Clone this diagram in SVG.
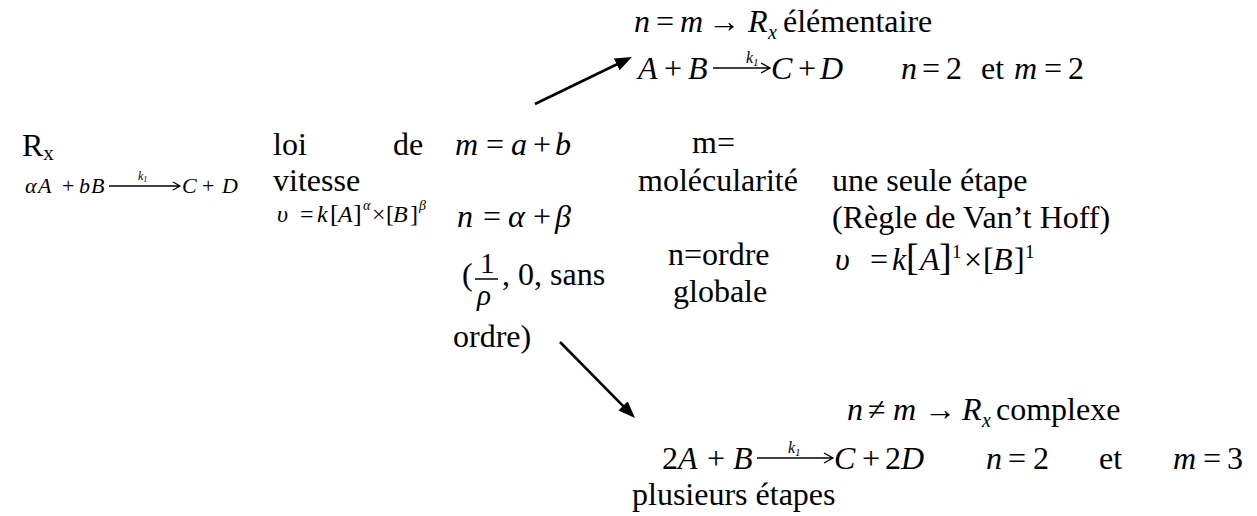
<svg xmlns="http://www.w3.org/2000/svg" width="1257" height="516" viewBox="0 0 1257 516">
<style>
text{font-family:"Liberation Serif","Times New Roman",serif;font-size:32px;fill:#000}
.i{font-style:italic}
.sub{font-size:20px;font-style:italic}
.eq{font-size:22px}
.eq2{font-size:24px}
.k{font-size:16px;font-style:italic}
.k1{font-size:11px}
.ks{font-size:12px;font-style:italic}
.ks1{font-size:8px}
.fr{font-size:29px}
.ar{stroke:#000;stroke-width:1.3;fill:none}
.cn{stroke:#000;stroke-width:2.6;fill:none}
</style>
<defs>
<marker id="head" viewBox="0 0 17 13" refX="9" refY="6.5" markerWidth="17" markerHeight="13" markerUnits="userSpaceOnUse" orient="auto"><path d="M0,0 L17,6.5 L0,13 z" fill="#000"/></marker>
</defs>
<g id="connectors">
<line class="cn" x1="535" y1="104" x2="624.8" y2="60.5" marker-end="url(#head)"/>
<line class="cn" x1="560" y1="342" x2="629.4" y2="412.3" marker-end="url(#head)"/>
</g>
<g id="rx">
<text x="22" y="156">R<tspan font-size="21" dy="4">x</tspan></text>
<text class="eq" y="193"><tspan class="i" x="25">α</tspan><tspan class="i" x="38">A</tspan><tspan x="62">+</tspan><tspan class="i" x="79">b</tspan><tspan class="i" x="91">B</tspan><tspan class="i" x="182">C</tspan><tspan x="202">+</tspan><tspan class="i" x="222">D</tspan></text>
<path class="ar" d="M109,186 H180 M173,182 L180,186 L173,190"/>
<text class="ks" x="138" y="180">k<tspan class="ks1" dy="2">1</tspan></text>
</g>
<g id="loi">
<text x="273" y="155">loi</text>
<text x="393" y="155">de</text>
<text x="273" y="191">vitesse</text>
<text class="eq2" y="222"><tspan class="i" x="277">υ</tspan><tspan x="300">=</tspan><tspan class="i" x="317">k</tspan><tspan x="330" font-size="26">[</tspan><tspan class="i" x="338">A</tspan><tspan x="353" font-size="26">]</tspan><tspan x="363" class="i" font-size="14" dy="-12">α</tspan><tspan x="372" dy="12">×</tspan><tspan x="386">[</tspan><tspan class="i" x="393">B</tspan><tspan x="410">]</tspan><tspan x="419" class="i" font-size="14" dy="-12">β</tspan></text>
</g>
<g id="mn">
<text y="155"><tspan class="i" x="455">m</tspan><tspan x="486">=</tspan><tspan class="i" x="511">a</tspan><tspan x="533">+</tspan><tspan class="i" x="555">b</tspan></text>
<text y="227"><tspan class="i" x="457">n</tspan><tspan x="483">=</tspan><tspan class="i" x="508">α</tspan><tspan x="533">+</tspan><tspan class="i" x="555">β</tspan></text>
<text x="462" y="285">(</text>
<text class="fr" x="480" y="273">1</text>
<line x1="475" y1="279" x2="498" y2="279" stroke="#000" stroke-width="1.5"/>
<text class="fr i" x="477" y="305">ρ</text>
<text x="502" y="285">, 0, sans</text>
<text x="453" y="347">ordre)</text>
</g>
<g id="molecularite">
<text x="692" y="153">m=</text>
<text x="638" y="191">molécularité</text>
<text x="668" y="265">n=ordre</text>
<text x="673" y="302">globale</text>
</g>
<g id="etape">
<text x="832" y="191">une seule étape</text>
<text x="832" y="228">(Règle de Van’t Hoff)</text>
<text y="270"><tspan class="i" x="835">υ</tspan><tspan x="870">=</tspan><tspan class="i" x="892">k</tspan><tspan x="906" font-size="38">[</tspan><tspan class="i" x="920">A</tspan><tspan x="939" font-size="38">]</tspan><tspan x="952" font-size="19" dy="-12">1</tspan><tspan x="964" dy="12">×</tspan><tspan x="983">[</tspan><tspan class="i" x="993">B</tspan><tspan x="1014">]</tspan><tspan x="1025" font-size="19" dy="-12">1</tspan></text>
</g>
<g id="elementaire">
<text y="32"><tspan class="i" x="634">n</tspan><tspan x="656">=</tspan><tspan class="i" x="680">m</tspan><tspan x="708">→</tspan><tspan class="i" x="748">R</tspan><tspan class="sub" x="768" dy="7">x</tspan><tspan x="783" dy="-7">élémentaire</tspan></text>
<text y="79"><tspan class="i" x="638">A</tspan><tspan x="664">+</tspan><tspan class="i" x="688">B</tspan><tspan class="i" x="771">C</tspan><tspan x="798">+</tspan><tspan class="i" x="820">D</tspan><tspan class="i" x="901">n</tspan><tspan x="922">=</tspan><tspan x="946">2</tspan><tspan x="981">et</tspan><tspan class="i" x="1014">m</tspan><tspan x="1044">=</tspan><tspan x="1068">2</tspan></text>
<path class="ar" d="M713,68 H770 M761,63 L770,68 L761,73"/>
<text class="k" x="746" y="63">k<tspan class="k1" dy="3">1</tspan></text>
</g>
<g id="complexe">
<text y="420"><tspan class="i" x="847">n</tspan><tspan x="868">≠</tspan><tspan class="i" x="893">m</tspan><tspan x="924">→</tspan><tspan class="i" x="962">R</tspan><tspan class="sub" x="982" dy="7">x</tspan><tspan x="996" dy="-7">complexe</tspan></text>
<text y="469"><tspan x="662">2</tspan><tspan class="i" x="678">A</tspan><tspan x="707">+</tspan><tspan class="i" x="733">B</tspan><tspan class="i" x="834">C</tspan><tspan x="862">+</tspan><tspan x="885">2</tspan><tspan class="i" x="901">D</tspan><tspan class="i" x="986">n</tspan><tspan x="1008">=</tspan><tspan x="1033">2</tspan><tspan x="1099">et</tspan><tspan class="i" x="1173">m</tspan><tspan x="1203">=</tspan><tspan x="1227">3</tspan></text>
<path class="ar" d="M757,458 H833 M824,453 L833,458 L824,463"/>
<text class="k" x="788" y="453">k<tspan class="k1" dy="3">1</tspan></text>
<text x="632" y="505">plusieurs étapes</text>
</g>
</svg>
